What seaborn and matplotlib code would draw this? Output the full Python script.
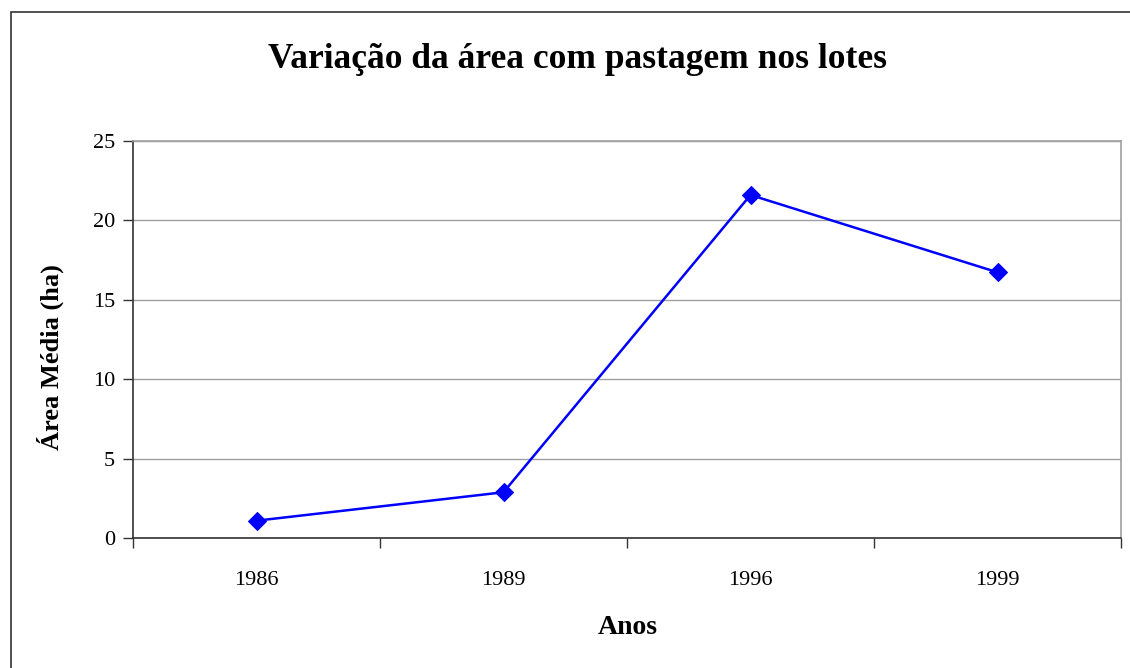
import numpy as np
import pandas as pd
import seaborn as sns
import matplotlib.pyplot as plt
from matplotlib.patches import Rectangle

# Data
anos = ["1986", "1989", "1996", "1999"]
area_media = [1.09, 2.88, 21.6, 16.73]

df = pd.DataFrame({"pos": np.arange(len(anos)), "area": area_media})

sns.set_theme(style="white")
plt.rcParams['font.family'] = ['Liberation Serif', 'DejaVu Serif']
plt.rcParams['text.color'] = 'black'
plt.rcParams['axes.labelcolor'] = 'black'
plt.rcParams['xtick.color'] = 'black'
plt.rcParams['ytick.color'] = 'black'

fig = plt.figure(figsize=(11.3, 6.68), dpi=100)
ax = fig.add_axes([133 / 1130, 1 - 538 / 668, (1121 - 133) / 1130, (538 - 141) / 668])

# outer chart frame
fig.patches.append(Rectangle((11 / 1130, -0.01), 1.2, 1 - 12 / 668 + 0.01,
                             transform=fig.transFigure, fill=False,
                             edgecolor="#333333", linewidth=1.2))

sns.lineplot(data=df, x="pos", y="area", ax=ax, color="#0000ff", linewidth=1.8,
             marker="D", markersize=9, markeredgecolor="#0000ff")

ax.set_xlim(-0.5, len(anos) - 0.5)
ax.set_ylim(0, 25)
ax.set_yticks(range(0, 26, 5))
ax.yaxis.grid(True, color="#a0a0a0", linewidth=1)
ax.set_axisbelow(True)

ax.set_xticks(range(len(anos)))
ax.set_xticklabels(anos)
ax.set_xticks(np.arange(-0.5, len(anos), 1), minor=True)
ax.tick_params(axis="x", which="major", bottom=False, length=0, pad=24, labelsize=16)
ax.tick_params(axis="x", which="minor", bottom=True, length=7, width=1, color="#333333", direction="out")
ax.tick_params(axis="y", left=True, length=7, width=1, color="#333333", direction="out", labelsize=16, pad=6)

for side in ["top", "right"]:
    ax.spines[side].set_color("#a0a0a0")
for side in ["left", "bottom"]:
    ax.spines[side].set_color("#333333")
for s in ax.spines.values():
    s.set_linewidth(1.2)

ax.set_xlabel("Anos", fontsize=20, fontweight="bold", va="center")
ax.xaxis.set_label_coords((628 - 133) / 988, -(627 - 538) / 397)
ax.set_ylabel("Área Média (ha)", fontsize=19, fontweight="bold", va="center")
ax.yaxis.set_label_coords(-(133 - 50) / 988, (538 - 357) / 397)
fig.text(577 / 1130, 1 - 59 / 668, "Variação da área com pastagem nos lotes",
         ha="center", va="center", fontsize=25.5, fontweight="bold")

fig.savefig("out.png", dpi=100)
